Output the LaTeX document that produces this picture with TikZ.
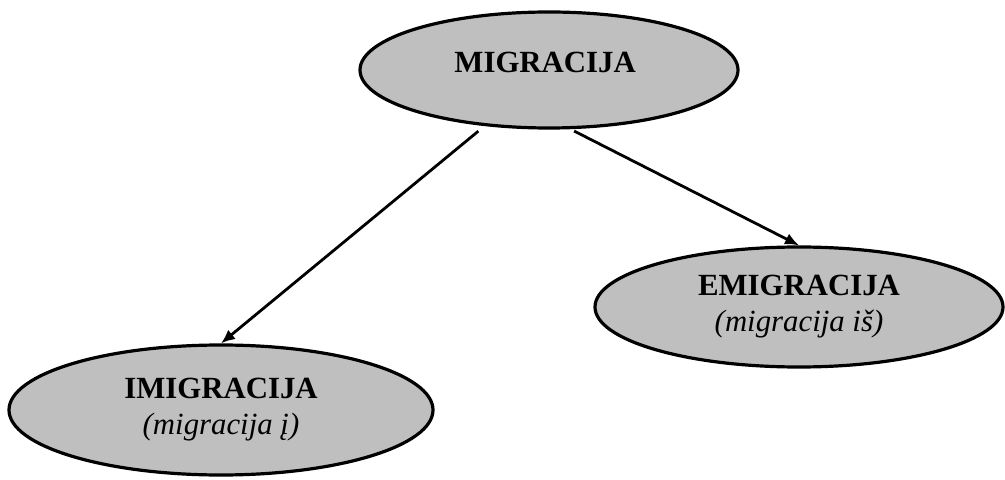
\documentclass[tikz,border=0pt]{standalone}
\usepackage{fontspec}
\setmainfont{Liberation Serif}
\usetikzlibrary{arrows.meta}
\usetikzlibrary{shapes.geometric}
\tikzset{
    oval/.style={
           ellipse,
           draw=black, line width=1.6pt,
           fill=black!25,
           inner sep=0pt,
           text centered,
           align=center,
           font=\fontsize{15.4}{18}\selectfont,
           },
}

\begin{document}
\begin{tikzpicture}[x=0.5pt, y=-0.5pt]
	\useasboundingbox (0,0) rectangle (1005,480);

	\node[oval, minimum width=189pt, minimum height=58pt] (mig) at (549,70) {
		\raisebox{8pt}{\textbf{MIGRACIJA}}
	};

	\node[oval, minimum width=204pt, minimum height=60pt] (emig) at (799,307) {
		\textbf{EMIGRACIJA}\\
		\textit{(migracija iš)}
	};

	\node[oval, minimum width=212pt, minimum height=65pt] (imig) at (221,410) {
		\textbf{IMIGRACIJA}\\
		\textit{(migracija į)}
	};

	\path[-{Latex[length=7pt,width=6pt]}, line width=1.4pt]	(mig.221) edge[shorten <=4pt] (imig.north)
							(mig.290) edge[shorten <=2pt] (emig.north);
\end{tikzpicture}
\end{document}
